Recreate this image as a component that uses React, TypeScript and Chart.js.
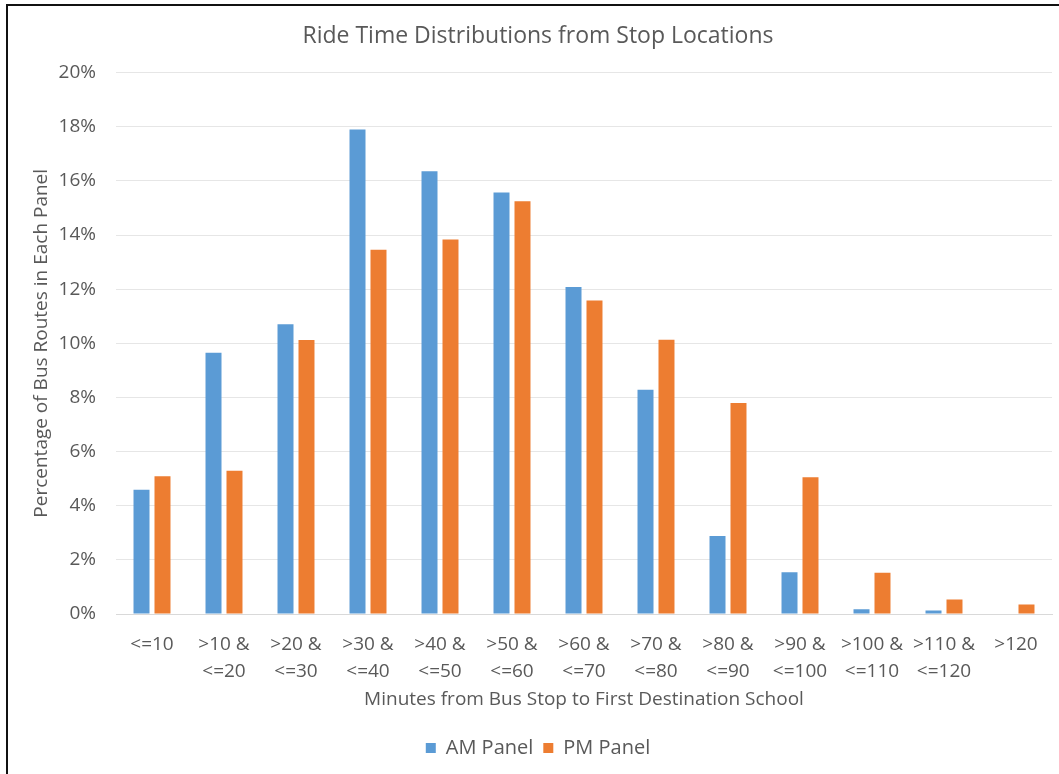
import React, { useEffect, useRef } from "react";
import { Chart, registerables } from "chart.js";

Chart.register(...registerables);

const categories: string[][] = [
  ["<=10"],
  [">10 &", "<=20"],
  [">20 &", "<=30"],
  [">30 &", "<=40"],
  [">40 &", "<=50"],
  [">50 &", "<=60"],
  [">60 &", "<=70"],
  [">70 &", "<=80"],
  [">80 &", "<=90"],
  [">90 &", "<=100"],
  [">100 &", "<=110"],
  [">110 &", "<=120"],
  [">120"],
];

const amPanel: number[] = [4.59, 9.65, 10.7, 17.9, 16.36, 15.57, 12.08, 8.28, 2.88, 1.54, 0.18, 0.13, 0];
const pmPanel: number[] = [5.09, 5.29, 10.12, 13.46, 13.83, 15.25, 11.58, 10.13, 7.79, 5.05, 1.52, 0.54, 0.35];

const yTicks: number[] = [0, 2, 4, 6, 8, 10, 12, 14, 16, 18, 20];

const TITLE = "Ride Time Distributions from Stop Locations";
const X_TITLE = "Minutes from Bus Stop to First Destination School";
const Y_TITLE = "Percentage of Bus Routes in Each Panel";

const FONT = "'Open Sans', 'DejaVu Sans', sans-serif";
const TEXT = "#595959";

export default function App() {
  const canvasRef = useRef<HTMLCanvasElement | null>(null);

  useEffect(() => {
    const canvas = canvasRef.current;
    if (!canvas) return;
    const chart = new Chart(canvas, {
      type: "bar",
      data: {
        labels: categories,
        datasets: [
          {
            label: "AM Panel",
            data: amPanel,
            backgroundColor: "#5B9BD5",
            borderWidth: 0,
            barPercentage: 0.762,
            categoryPercentage: 0.583,
          },
          {
            label: "PM Panel",
            data: pmPanel,
            backgroundColor: "#ED7D31",
            borderWidth: 0,
            barPercentage: 0.762,
            categoryPercentage: 0.583,
          },
        ],
      },
      options: {
        responsive: false,
        animation: false,
        layout: { padding: { left: 24, right: 7, top: 0, bottom: 6 } },
        plugins: {
          title: {
            display: true,
            text: TITLE,
            color: TEXT,
            font: { family: FONT, size: 23, weight: "normal", lineHeight: 1.2 },
            padding: { top: 23, bottom: 22 },
          },
          legend: {
            position: "bottom",
            labels: {
              color: TEXT,
              font: { family: FONT, size: 20 },
              boxWidth: 10,
              boxHeight: 10,
              padding: 10,
            },
          },
          tooltip: { enabled: false },
        },
        scales: {
          x: {
            grid: { display: false, drawTicks: false },
            border: { display: true, color: "#d9d9d9", width: 1 },
            ticks: {
              color: TEXT,
              font: { family: FONT, size: 19, lineHeight: 1.42 },
              padding: 17,
              maxRotation: 0,
              autoSkip: false,
            },
            title: {
              display: true,
              text: X_TITLE,
              color: TEXT,
              font: { family: FONT, size: 19, lineHeight: 1.2 },
              padding: { top: 0, bottom: 16.6 },
            },
            afterFit: (scale: any) => {
              scale.height = 114;
            },
          },
          y: {
            min: 0,
            max: 20,
            afterBuildTicks: (scale: any) => {
              scale.ticks = yTicks.map((v) => ({ value: v }));
            },
            grid: { color: "#e6e6e6", drawTicks: false, lineWidth: 1 },
            border: { display: false },
            ticks: {
              color: TEXT,
              font: { family: FONT, size: 19 },
              padding: 20,
              callback: (v: any) => `${v}%`,
            },
            title: {
              display: true,
              text: Y_TITLE,
              color: TEXT,
              font: { family: FONT, size: 19, lineHeight: 1.2 },
              padding: { top: 6.6, bottom: 0 },
            },
            afterFit: (scale: any) => {
              scale.width = 92;
            },
          },
        },
      },
    });
    return () => chart.destroy();
  }, []);

  return (
    <div
      style={{
        position: "absolute",
        left: 0,
        top: 0,
        width: 1059,
        height: 774,
        background: "#ffffff",
        overflow: "hidden",
      }}
    >
      <canvas ref={canvasRef} width={1059} height={774} style={{ display: "block" }} />
      <div
        style={{
          position: "absolute",
          left: 6,
          top: 4,
          width: 1059,
          height: 774,
          borderTop: "2px solid #111",
          borderLeft: "2px solid #111",
          pointerEvents: "none",
        }}
      />
    </div>
  );
}
